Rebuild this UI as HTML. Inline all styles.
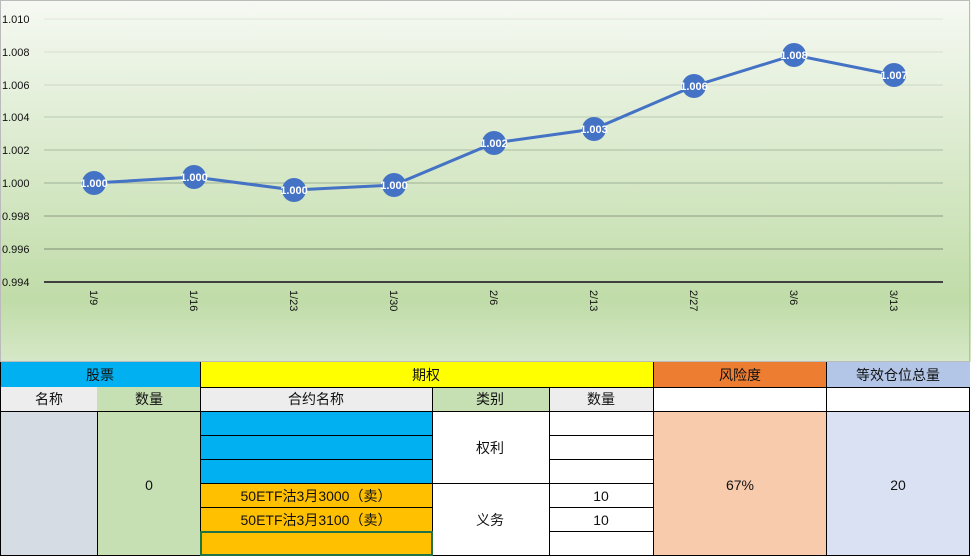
<!DOCTYPE html>
<html><head><meta charset="utf-8"><style>
body{margin:0;width:971px;height:557px;overflow:hidden;background:#fff;font-family:"Liberation Sans","Noto Sans CJK SC",sans-serif}
svg{position:absolute;left:0;top:0}
</style></head><body>
<svg width="971" height="557" viewBox="0 0 971 557">
<defs>
<linearGradient id="bg" x1="0" y1="0" x2="0" y2="1">
<stop offset="0" stop-color="#f6f9f3"/>
<stop offset="0.83" stop-color="#c0dca8"/>
<stop offset="1" stop-color="#d6e8c8"/>
</linearGradient>
</defs>
<rect x="0" y="0" width="971" height="362" fill="url(#bg)"/>
<rect x="0.5" y="0.5" width="969" height="361" fill="none" stroke="#bbb"/>
<g stroke-width="1">
<line x1="44" x2="943" y1="19" y2="19" stroke="#dfe6da"/>
<line x1="44" x2="943" y1="52" y2="52" stroke="#d5dfcf"/>
<line x1="44" x2="943" y1="85" y2="85" stroke="#ccd8c5"/>
<line x1="44" x2="943" y1="117" y2="117" stroke="#bccab4"/>
<line x1="44" x2="943" y1="150" y2="150" stroke="#abbba2"/>
<line x1="44" x2="943" y1="183" y2="183" stroke="#9fb196"/>
<line x1="44" x2="943" y1="216" y2="216" stroke="#8c9c84"/>
<line x1="44" x2="943" y1="249" y2="249" stroke="#7d8d75"/>
</g>
<line x1="44" x2="943" y1="282" y2="282" stroke="#404040" stroke-width="2"/>
<g font-size="11" fill="#111">
<text x="2" y="23">1.010</text><text x="2" y="56">1.008</text><text x="2" y="89">1.006</text>
<text x="2" y="121">1.004</text><text x="2" y="154">1.002</text><text x="2" y="187">1.000</text>
<text x="2" y="220">0.998</text><text x="2" y="253">0.996</text><text x="2" y="286">0.994</text>
</g>
<g font-size="11" fill="#111">
<text transform="translate(90,290) rotate(90)">1/9</text>
<text transform="translate(190,290) rotate(90)">1/16</text>
<text transform="translate(290,290) rotate(90)">1/23</text>
<text transform="translate(390,290) rotate(90)">1/30</text>
<text transform="translate(490,290) rotate(90)">2/6</text>
<text transform="translate(590,290) rotate(90)">2/13</text>
<text transform="translate(690,290) rotate(90)">2/27</text>
<text transform="translate(790,290) rotate(90)">3/6</text>
<text transform="translate(890,290) rotate(90)">3/13</text>
</g>
<polyline points="94,183 194,177 294,190 394,185 494,143 594,129 694,86 794,55 894,75" fill="none" stroke="#4472c4" stroke-width="3"/>
<g fill="#4472c4">
<circle cx="94" cy="183" r="12"/><circle cx="194" cy="177" r="12"/><circle cx="294" cy="190" r="12"/>
<circle cx="394" cy="185" r="12"/><circle cx="494" cy="143" r="12"/><circle cx="594" cy="129" r="12"/>
<circle cx="694" cy="86" r="12"/><circle cx="794" cy="55" r="12"/><circle cx="894" cy="75" r="12"/>
</g>
<g font-size="11" fill="#fff" text-anchor="middle" font-weight="bold">
<text x="94" y="187">1.000</text><text x="194" y="181">1.000</text><text x="294" y="194">1.000</text>
<text x="394" y="189">1.000</text><text x="494" y="147">1.002</text><text x="594" y="133">1.003</text>
<text x="694" y="90">1.006</text><text x="794" y="59">1.008</text><text x="894" y="79">1.007</text>
</g>

<rect x="0" y="362" width="200" height="25" fill="#00b0f0"/>
<rect x="200" y="362" width="453" height="25" fill="#ffff00"/>
<rect x="653" y="362" width="173" height="25" fill="#ed7d31"/>
<rect x="826" y="362" width="144" height="25" fill="#b4c6e7"/>
<rect x="0" y="387" width="97" height="24" fill="#ededed"/>
<rect x="97" y="387" width="103" height="24" fill="#c6e0b4"/>
<rect x="200" y="387" width="232" height="24" fill="#ededed"/>
<rect x="432" y="387" width="117" height="24" fill="#c6e0b4"/>
<rect x="549" y="387" width="104" height="24" fill="#ededed"/>
<rect x="653" y="387" width="317" height="24" fill="#fff"/>
<rect x="0" y="411" width="97" height="144" fill="#d6dce4"/>
<rect x="97" y="411" width="103" height="144" fill="#c6e0b4"/>
<rect x="200" y="411" width="232" height="72" fill="#00b0f0"/>
<rect x="200" y="483" width="232" height="72" fill="#ffc000"/>
<rect x="653" y="411" width="173" height="144" fill="#f8cbad"/>
<rect x="826" y="411" width="144" height="144" fill="#d9e1f2"/>
<g stroke="#000" stroke-width="1" fill="none">
<line x1="200" x2="970" y1="387.5" y2="387.5"/>
<line x1="0" x2="970" y1="411.5" y2="411.5"/>
<line x1="0" x2="970" y1="555.5" y2="555.5"/>
<line x1="200" x2="432" y1="435.5" y2="435.5"/><line x1="549" x2="653" y1="435.5" y2="435.5"/>
<line x1="200" x2="432" y1="459.5" y2="459.5"/><line x1="549" x2="653" y1="459.5" y2="459.5"/>
<line x1="200" x2="653" y1="483.5" y2="483.5"/>
<line x1="200" x2="432" y1="507.5" y2="507.5"/><line x1="549" x2="653" y1="507.5" y2="507.5"/>
<line x1="200" x2="432" y1="531.5" y2="531.5"/><line x1="549" x2="653" y1="531.5" y2="531.5"/>
<line x1="0.5" x2="0.5" y1="362" y2="556"/>
<line x1="97.5" x2="97.5" y1="411" y2="556"/>
<line x1="200.5" x2="200.5" y1="362" y2="556"/>
<line x1="432.5" x2="432.5" y1="387" y2="556"/>
<line x1="549.5" x2="549.5" y1="387" y2="556"/>
<line x1="653.5" x2="653.5" y1="362" y2="556"/>
<line x1="826.5" x2="826.5" y1="362" y2="556"/>
<line x1="969.5" x2="969.5" y1="387" y2="556"/>
</g>
<rect x="201" y="532" width="231" height="23" fill="none" stroke="#217346" stroke-width="2"/>
<g font-size="14" fill="#111" text-anchor="middle">
<text x="100" y="380">股票</text><text x="426" y="380">期权</text>
<text x="740" y="380">风险度</text><text x="898" y="380">等效仓位总量</text>
<text x="49" y="404">名称</text><text x="149" y="404">数量</text><text x="316" y="404">合约名称</text>
<text x="490" y="404">类别</text><text x="601" y="404">数量</text>
<text x="149" y="490">0</text><text x="490" y="453">权利</text><text x="490" y="525">义务</text>
<text x="316" y="501">50ETF沽3月3000（卖）</text><text x="316" y="525">50ETF沽3月3100（卖）</text>
<text x="601" y="501">10</text><text x="601" y="525">10</text>
<text x="740" y="490">67%</text><text x="898" y="490">20</text>
</g>
</svg>
</body></html>
